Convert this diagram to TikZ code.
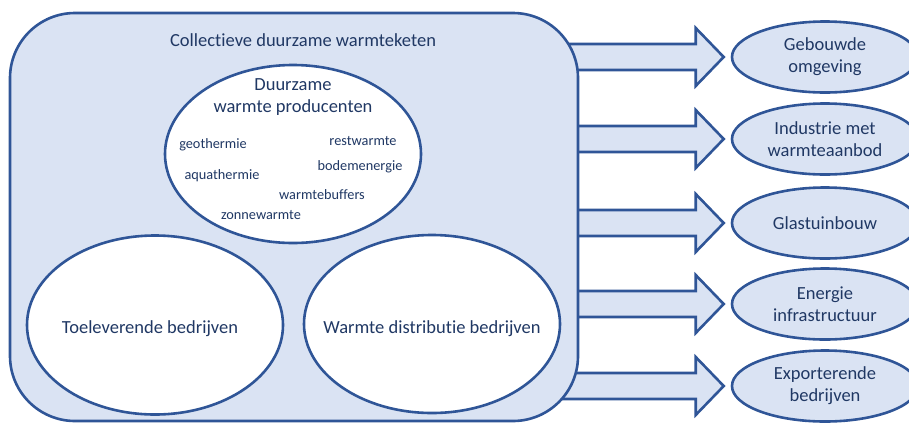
\documentclass[tikz,border=0pt]{standalone}
\usepackage{fontspec}
\setmainfont{Carlito}[Ligatures=NoCommon]
\usetikzlibrary{shapes.geometric,calc,backgrounds}
\definecolor{fillblue}{HTML}{DAE3F3}
\definecolor{lineblue}{HTML}{2F5597}
\definecolor{txt}{HTML}{203864}
\begin{document}
\begin{tikzpicture}[x=1pt,y=-1pt,
  big/.style={font=\fontsize{18.5}{22}\selectfont,text=txt,align=center},
  small/.style={font=\fontsize{14.3}{17}\selectfont,text=txt,anchor=base,inner sep=0pt},
  whiteell/.style={ellipse,draw=lineblue,line width=2.6pt,fill=white,inner sep=0pt},
  target/.style={ellipse,draw=lineblue,line width=2.6pt,fill=fillblue,inner sep=0pt,minimum width=186pt,minimum height=71pt,big},
  blockarrow/.style={draw=lineblue,line width=2.6pt,fill=fillblue,line join=miter}]
\useasboundingbox (0,0) rectangle (909,424);
\clip (0,0) rectangle (909,424);
% main container
\node[draw=lineblue,line width=2.6pt,fill=fillblue,rounded corners=65pt,minimum width=568pt,minimum height=408pt,inner sep=0pt] (keten) at (294,217) {};
\node[big,anchor=base] (title) at (303,46) {Collectieve duurzame warmteketen};
% inner ellipses
\node[whiteell,minimum width=256pt,minimum height=178pt] (prod) at (293,154) {};
\node[whiteell,minimum width=256pt,minimum height=179pt] (toel) at (155,325) {};
\node[whiteell,minimum width=256pt,minimum height=178pt] (dist) at (432,324) {};
\node[big] (prodt) at (293,97) {Duurzame\\warmte producenten};
\node[big,anchor=base] (toelt) at (150,333) {Toeleverende bedrijven};
\node[big,anchor=base] (distt) at (432,333) {Warmte distributie bedrijven};
\node[small] (w1) at (213,148) {geothermie};
\node[small] (w2) at (363,145) {restwarmte};
\node[small] (w3) at (360,170) {bodemenergie};
\node[small] (w4) at (222,179) {aquathermie};
\node[small] (w5) at (322,199) {warmtebuffers};
\node[small] (w6) at (261,219) {zonnewarmte};
% targets
\node[target] (t1) at (825,57) {Gebouwde\\omgeving};
\node[target] (t2) at (825,139) {Industrie met\\warmteaanbod};
\node[target] (t3) at (825,223) {Glastuinbouw};
\node[target] (t4) at (825,304) {Energie\\infrastructuur};
\node[target] (t5) at (825,386) {Exporterende\\bedrijven};
% block arrows behind the container
\begin{scope}[on background layer]
\foreach \t in {t1,t2,t3,t4,t5}{
  \draw[blockarrow] ($(keten.east|-\t)+(-40,-13)$) -- ($(\t.west)+(-35,-13)$) -- ($(\t.west)+(-35,-29)$) -- ($(\t.west)+(-7,0)$) -- ($(\t.west)+(-35,29)$) -- ($(\t.west)+(-35,13)$) -- ($(keten.east|-\t)+(-40,13)$) -- cycle;
}
\end{scope}
\end{tikzpicture}
\end{document}
